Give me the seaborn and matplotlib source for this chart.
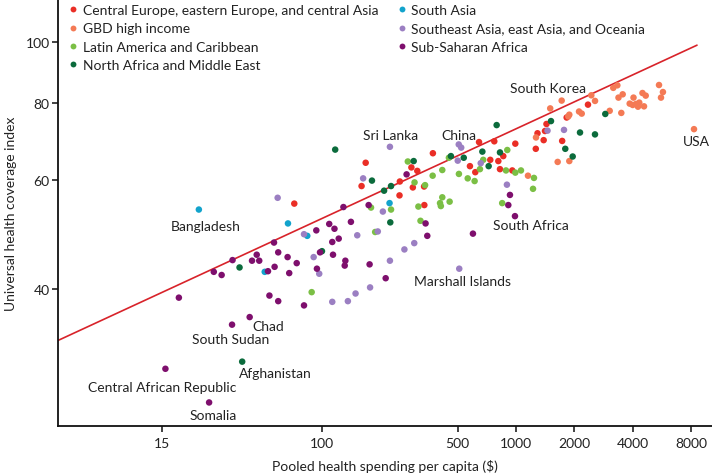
import numpy as np
import pandas as pd
import matplotlib
matplotlib.use("Agg")
import matplotlib.pyplot as plt
import seaborn as sns

# ---------------- data ----------------
regions = [
    "Central Europe, eastern Europe, and central Asia",
    "GBD high income",
    "Latin America and Caribbean",
    "North Africa and Middle East",
    "South Asia",
    "Southeast Asia, east Asia, and Oceania",
    "Sub-Saharan Africa",
]
colors = ["#ea2e26", "#f47a55", "#7bbf45", "#0b6b3c", "#12a3cc", "#9b7fc2", "#7e0f6d"]

ceeca_x = [168, 160, 72, 645, 773, 373, 860, 811, 737, 289, 310, 579, 617, 827, 957,
           252, 294, 336, 251, 337, 992, 2350, 1825, 1436, 1411, 1291, 1389, 1265, 1730]
ceeca_y = [64.0, 58.7, 55.0, 69.1, 69.3, 66.3, 65.6, 64.4, 64.7, 62.9, 62.1, 63.2, 61.8, 62.5, 62.2,
           59.7, 58.4, 58.6, 56.7, 54.7, 68.7, 79.4, 75.7, 73.9, 72.0, 71.4, 69.6, 67.4, 69.4]

hi_x = [5460, 5720, 5590, 3330, 3173, 3548, 3375, 4487, 4663, 4034, 3855, 3995, 4155, 4255,
        4570, 4320, 3041, 3490, 2445, 2555, 2113, 2182, 1883, 1860, 1720, 1501, 8270, 1268,
        1640, 1883, 1153]
hi_y = [85.4, 83.2, 81.5, 85.3, 84.5, 82.5, 81.5, 82.9, 82.1, 81.5, 79.7, 79.3, 79.6, 78.8,
        78.9, 80.0, 77.6, 77.0, 82.2, 80.5, 77.4, 76.8, 76.5, 76.0, 80.6, 78.3, 72.5, 70.3,
        64.2, 64.4, 61.0]

lac_x = [179, 188, 88.5, 902, 451, 277, 417, 678, 652, 888, 992, 1061, 508, 564, 612, 372,
         300, 340, 417, 406, 410, 455, 314, 227, 849, 322, 1238, 1224]
lac_y = [54.2, 49.5, 39.6, 67.1, 65.2, 64.3, 62.3, 64.7, 62.5, 62.2, 61.7, 62.2, 61.4, 60.4,
         59.8, 61.0, 59.5, 58.9, 56.3, 55.1, 54.5, 55.4, 54.4, 53.8, 55.1, 51.6, 60.5, 58.1]

nafme_x = [117, 181, 100, 37.6, 38.8, 795, 671, 827, 462, 538, 297, 723, 227, 209, 225,
           1515, 2886, 2138, 2554, 1795, 1960]
nafme_y = [67.2, 59.9, 46.1, 43.4, 30.6, 73.6, 66.7, 66.5, 65.6, 65.2, 64.4, 63.2, 58.7, 57.7,
           51.3, 74.7, 76.7, 71.6, 71.1, 67.4, 65.5]

sa_x = [23.2, 66.8, 50.7, 223, 84.0]
sa_y = [53.8, 51.1, 42.7, 55.1, 48.8]

seao_x = [224, 507, 522, 163, 59.1, 152, 194, 80.8, 90.6, 96.8, 149, 177, 113, 136, 501, 658,
          898, 206, 299, 266, 224, 510, 1454, 1768]
seao_y = [67.9, 68.5, 67.7, 60.4, 56.2, 48.9, 49.6, 49.1, 45.1, 42.4, 39.4, 40.3, 38.2, 38.3,
          64.5, 63.9, 59.0, 53.4, 47.5, 46.4, 44.5, 43.2, 72.1, 72.3]

ssa_x = [129, 174, 141, 109, 116, 93.5, 122, 113, 56.6, 59.5, 97.7, 114, 66.5, 46.1, 34.6,
         43.6, 47.5, 74.1, 132, 131, 176, 57.0, 52.7, 67.8, 94.2, 27.7, 30.4, 53.6, 18.3,
         59.5, 80.8, 42.4, 34.4, 15.6, 26.2, 349, 342, 600, 273, 931, 913, 988, 213]
ssa_y = [54.3, 54.7, 51.4, 51.0, 50.1, 49.8, 48.3, 47.7, 47.6, 45.9, 45.9, 45.5, 45.1, 45.5, 44.6,
         44.5, 44.5, 44.1, 44.5, 43.7, 43.9, 43.5, 42.8, 42.5, 43.2, 42.7, 42.2, 39.1, 38.8,
         38.3, 37.7, 36.1, 35.1, 29.8, 26.3, 48.8, 51.1, 49.2, 61.3, 56.8, 54.7, 52.5, 41.7]

# labelled countries: name, spending, UHC index
label_names = ["Bangladesh", "Sri Lanka", "China", "South Korea", "USA", "South Africa",
               "Marshall Islands", "Chad", "South Sudan", "Afghanistan",
               "Central African Republic", "Somalia"]
label_x = [23.2, 224, 507, 1720, 8270, 988, 510, 42.4, 34.4, 38.8, 15.6, 26.2]
label_y = [53.8, 67.9, 68.5, 80.6, 72.5, 52.5, 43.2, 36.1, 35.1, 30.6, 29.8, 26.3]

# fitted line end points (log-log)
fit_x = [4.36, 8570]
fit_y = [33.1, 99.0]

x_ticks = [15, 100, 500, 1000, 2000, 4000, 8000]
y_ticks = [40, 60, 80, 100]

# ---------------- build table ----------------
series = [(ceeca_x, ceeca_y), (hi_x, hi_y), (lac_x, lac_y), (nafme_x, nafme_y),
          (sa_x, sa_y), (seao_x, seao_y), (ssa_x, ssa_y)]
frames = []
for reg, (xs, ys) in zip(regions, series):
    frames.append(pd.DataFrame({"spend": xs, "uhc": ys, "region": reg}))
df = pd.concat(frames, ignore_index=True)

sns.set_theme(style="ticks")
plt.rcParams["font.family"] = ["Lato", "DejaVu Sans"]

fig = plt.figure(figsize=(7.12, 4.77), dpi=100)
ax = fig.add_axes([58 / 712, 50 / 477, 654 / 712, 427 / 477])

ax.plot(fit_x, fit_y, color="#d8232a", lw=1.2, zorder=1)
sns.scatterplot(data=df, x="spend", y="uhc", hue="region", hue_order=regions,
                palette=dict(zip(regions, colors)), s=22, edgecolor="none",
                linewidth=0, ax=ax, zorder=2)

ax.set_xscale("log")
ax.set_yscale("log")
ax.set_xlim(4.36, 10240)
ax.set_ylim(24.1, 117.5)
ax.xaxis.set_minor_locator(matplotlib.ticker.NullLocator())
ax.yaxis.set_minor_locator(matplotlib.ticker.NullLocator())
ax.set_xticks(x_ticks)
ax.set_xticklabels([str(t) for t in x_ticks])
ax.set_yticks(y_ticks)
ax.set_yticklabels([str(t) for t in y_ticks])
ax.tick_params(axis="both", direction="out", length=4, width=1.2, color="#222222",
               labelsize=10, labelcolor="#222222", pad=2)
ax.tick_params(axis="x", pad=4)

for side in ["top", "right"]:
    ax.spines[side].set_visible(False)
for side in ["left", "bottom"]:
    ax.spines[side].set_linewidth(1.3)
    ax.spines[side].set_color("#111111")

ax.set_xlabel(r"Pooled health spending per capita (\$)", fontsize=10, color="#222222", labelpad=7)
ax.set_ylabel("Universal health coverage index", fontsize=10, color="#222222", labelpad=6)

# legend
handles, labels = ax.get_legend_handles_labels()
leg = ax.legend(handles, labels, loc="upper left", bbox_to_anchor=(0.012, 0.988), ncol=2,
                frameon=False, fontsize=10, handletextpad=0.2, handlelength=1.0,
                columnspacing=1.2, labelspacing=0.45, borderaxespad=0, borderpad=0,
                markerscale=0.9)
for t in leg.get_texts():
    t.set_color("#222222")

# annotations (offsets in pixels from the point: right, down)
offsets = {
    "Bangladesh": (7, 16), "Sri Lanka": (1, -12), "China": (0, -9),
    "South Korea": (-14, -13), "USA": (2, 12), "South Africa": (16, 9),
    "Marshall Islands": (3, 12), "Chad": (19, 9), "South Sudan": (-1, 14),
    "Afghanistan": (33, 11), "Central African Republic": (-3, 18.5), "Somalia": (4, 13),
}
for name, xv, yv in zip(label_names, label_x, label_y):
    dx, dy = offsets[name]
    ax.annotate(name, (xv, yv), xytext=(dx, -dy), textcoords="offset pixels",
                ha="center", va="center", fontsize=10, color="#222222")

fig.savefig("out.png", dpi=100)
